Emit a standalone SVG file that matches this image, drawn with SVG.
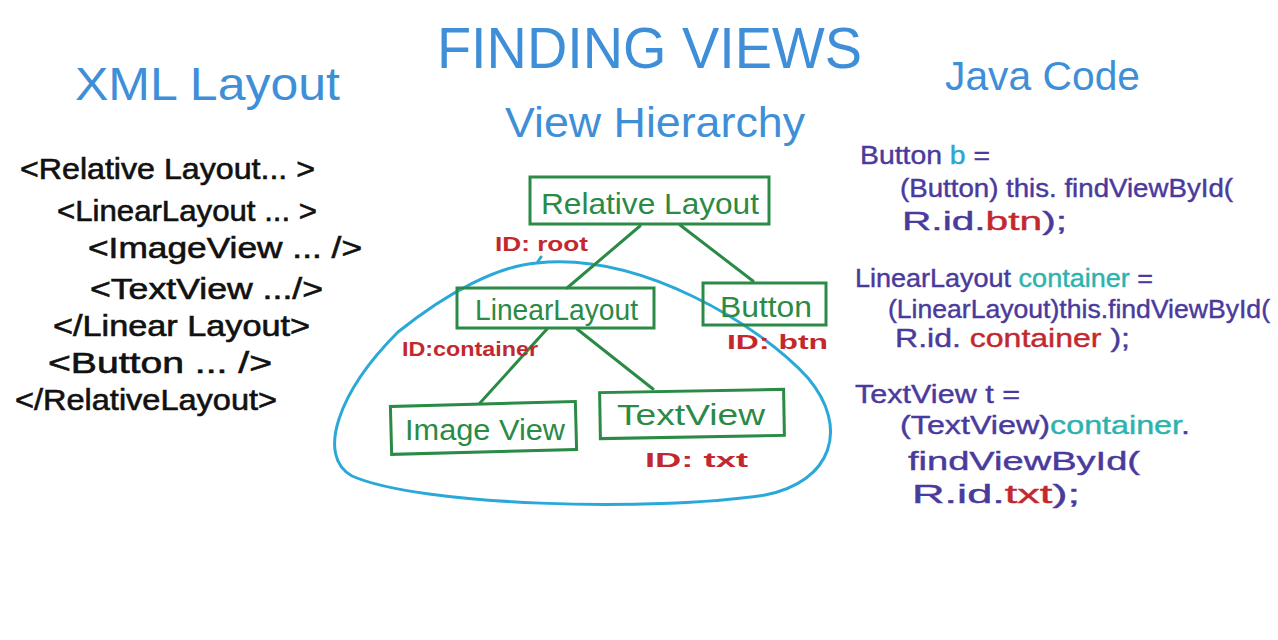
<svg xmlns="http://www.w3.org/2000/svg" width="1278" height="640" viewBox="0 0 1278 640">
<style>
text{font-family:"Liberation Sans","Open Sans",sans-serif;}
.title{fill:#3f8fd8;font-size:58px;}
.head{fill:#3f8fd8;font-size:46px;}
.xml{fill:#111;font-size:29px;stroke:#111;stroke-width:0.6;}
.box{fill:none;stroke:#2a8a46;stroke-width:3;}
.lbl{fill:#2a8a46;font-size:29px;}
.id{fill:#c3282f;font-size:21px;font-weight:bold;}
.code{fill:#4a3a9c;font-size:25px;stroke:#4a3a9c;stroke-width:0.4;}
.cy{fill:#2aa6d6;stroke:#2aa6d6;}
.tl{fill:#2db3ae;stroke:#2db3ae;}
.rd{fill:#c3282f;stroke:#c3282f;}
.conn line{stroke:#2a8a46;stroke-width:3;stroke-linecap:round;}
</style>
<rect width="1278" height="640" fill="#fff"/>
<g id="titles">
<text class="title" x="437" y="68" textLength="425" lengthAdjust="spacingAndGlyphs">FINDING VIEWS</text>
<text class="head" x="75" y="100" textLength="265" lengthAdjust="spacingAndGlyphs">XML Layout</text>
<text class="head" x="945" y="90" textLength="195" lengthAdjust="spacingAndGlyphs" style="font-size:40px">Java Code</text>
<text class="head" x="505" y="137" textLength="300" lengthAdjust="spacingAndGlyphs" style="font-size:42px">View Hierarchy</text>
</g>
<g id="xml-layout">
<text class="xml" x="20" y="179" textLength="295" lengthAdjust="spacingAndGlyphs">&lt;Relative Layout... &gt;</text>
<text class="xml" x="57" y="221" textLength="260" lengthAdjust="spacingAndGlyphs">&lt;LinearLayout ... &gt;</text>
<text class="xml" x="88" y="258" textLength="274" lengthAdjust="spacingAndGlyphs">&lt;ImageView ... /&gt;</text>
<text class="xml" x="90" y="299" textLength="233" lengthAdjust="spacingAndGlyphs">&lt;TextView .../&gt;</text>
<text class="xml" x="53" y="336" textLength="257" lengthAdjust="spacingAndGlyphs">&lt;/Linear Layout&gt;</text>
<text class="xml" x="48" y="373" textLength="224" lengthAdjust="spacingAndGlyphs">&lt;Button ... /&gt;</text>
<text class="xml" x="15" y="410" textLength="262" lengthAdjust="spacingAndGlyphs">&lt;/RelativeLayout&gt;</text>
</g>
<g id="highlight">
<path d="M537 263 C640 252,760 325,808 378 C850 428,832 482,765 495 C650 512,420 506,352 476 C316 456,338 392,398 332 C448 292,498 266,537 263 M537 263 L541 257" fill="none" stroke="#2aa8d8" stroke-width="3" stroke-linecap="round"/>
</g>
<g class="conn" id="connectors">
<line x1="640" y1="226" x2="567" y2="288"/>
<line x1="680" y1="225" x2="753" y2="281"/>
<line x1="547" y1="329" x2="480" y2="403"/>
<line x1="577" y1="329" x2="653" y2="389"/>
</g>
<g id="node-relativelayout">
<rect class="box" x="530" y="177" width="239" height="47"/>
<text class="lbl" x="541" y="214" textLength="218" lengthAdjust="spacingAndGlyphs">Relative Layout</text>
<text class="id" x="495" y="251" textLength="93" lengthAdjust="spacingAndGlyphs">ID: root</text>
</g>
<g id="node-linearlayout">
<rect class="box" x="457" y="288" width="197" height="40"/>
<text class="lbl" x="475" y="320" textLength="163" lengthAdjust="spacingAndGlyphs">LinearLayout</text>
<text class="id" x="402" y="356" textLength="136" lengthAdjust="spacingAndGlyphs">ID:container</text>
</g>
<g id="node-button">
<rect class="box" x="703" y="283" width="123" height="42"/>
<text class="lbl" x="720" y="317" textLength="92" lengthAdjust="spacingAndGlyphs">Button</text>
<text class="id" x="727" y="349" textLength="101" lengthAdjust="spacingAndGlyphs">ID: btn</text>
</g>
<g id="node-imageview">
<rect class="box" x="391" y="404" width="185" height="48" transform="rotate(-1.5 483 428)"/>
<text class="lbl" x="405" y="440" textLength="160" lengthAdjust="spacingAndGlyphs">Image View</text>
</g>
<g id="node-textview">
<rect class="box" x="600" y="391" width="184" height="46" transform="rotate(-1 692 414)"/>
<text class="lbl" x="617" y="425" textLength="148" lengthAdjust="spacingAndGlyphs">TextView</text>
<text class="id" x="645" y="467" textLength="103" lengthAdjust="spacingAndGlyphs">ID: txt</text>
</g>
<g id="java-code">
<text class="code" x="860" y="164" textLength="130" lengthAdjust="spacingAndGlyphs">Button <tspan class="cy">b</tspan> =</text>
<text class="code" x="900" y="197" textLength="333" lengthAdjust="spacingAndGlyphs">(Button) this. findViewById(</text>
<text class="code" x="902" y="230" textLength="165" lengthAdjust="spacingAndGlyphs">R.id.<tspan class="rd">btn</tspan>);</text>
<text class="code" x="855" y="287" textLength="298" lengthAdjust="spacingAndGlyphs">LinearLayout <tspan class="tl">container</tspan> =</text>
<text class="code" x="888" y="318" textLength="382" lengthAdjust="spacingAndGlyphs">(LinearLayout)this.findViewById(</text>
<text class="code" x="895" y="347" textLength="235" lengthAdjust="spacingAndGlyphs">R.id. <tspan class="rd">container</tspan> );</text>
<text class="code" x="855" y="403" textLength="165" lengthAdjust="spacingAndGlyphs">TextView t =</text>
<text class="code" x="900" y="434" textLength="290" lengthAdjust="spacingAndGlyphs">(TextView)<tspan class="tl">container</tspan>.</text>
<text class="code" x="908" y="470" textLength="232" lengthAdjust="spacingAndGlyphs">findViewById(</text>
<text class="code" x="912" y="503" textLength="168" lengthAdjust="spacingAndGlyphs">R.id.<tspan class="rd">txt</tspan>);</text>
</g>
</svg>
